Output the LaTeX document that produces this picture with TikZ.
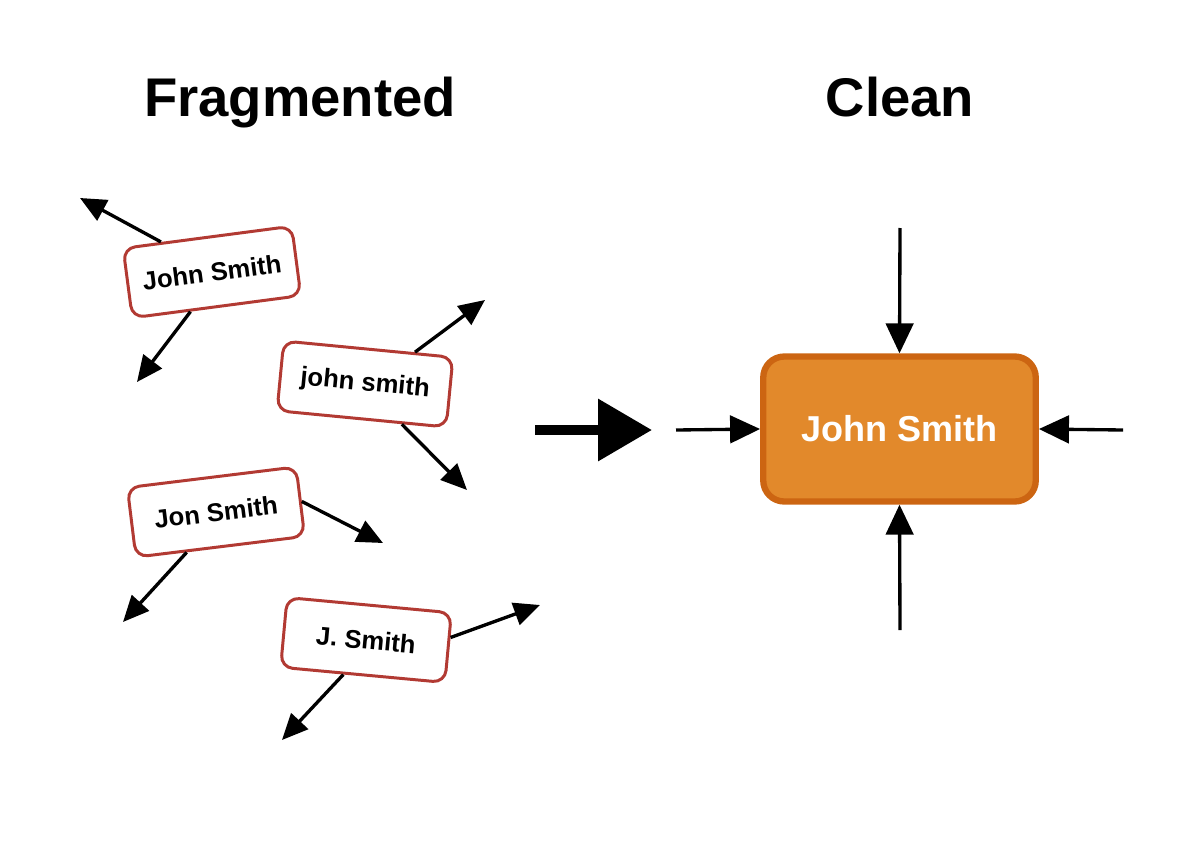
\documentclass[tikz,border=0pt]{standalone}
\usepackage{fontspec}
\setmainfont{Liberation Sans}
\usetikzlibrary{arrows.meta}
\definecolor{fragred}{HTML}{B23A33}
\definecolor{cleanfill}{HTML}{E2892B}
\definecolor{cleanedge}{HTML}{CC6512}
\begin{document}
\begin{tikzpicture}[>={Triangle[length=0.52cm,width=0.46cm]},
  title/.style={anchor=base,font=\fontsize{31}{36}\selectfont\bfseries},
  frag/.style={draw=fragred,line width=1.7pt,fill=white,rounded corners=0.24cm,
    minimum width=3.4cm,minimum height=1.4cm,font=\fontsize{14.6}{17}\selectfont\bfseries},
  cleanbox/.style={draw=cleanedge,line width=3.6pt,fill=cleanfill,rounded corners=0.42cm,
    minimum width=5.45cm,minimum height=2.9cm,text=white,font=\fontsize{20.5}{24}\selectfont\bfseries},
  spread/.style={->,line width=1.9pt},
  merge/.style={-{Triangle[length=0.6cm,width=0.55cm]},line width=1.9pt}]
\useasboundingbox (0,0) rectangle (24,17.16);

\node[title] (fragtitle) at (6.0,14.82) {Fragmented};
\node[title] (cleantitle) at (18,14.82) {Clean};

% scattered names
\node[frag,rotate=7.5] (b1) at (4.24,11.72) {John Smith};
\node[frag,rotate=-5.5] (b2) at (7.3,9.48) {john smith};
\node[frag,rotate=7] (b3) at (4.32,6.92) {Jon Smith};
\node[frag,rotate=-5.3,minimum width=3.3cm] (b4) at (7.32,4.36) {J. Smith};

\coordinate (t1a) at (1.6,13.2);
\coordinate (t1b) at (2.74,9.52);
\coordinate (t2a) at (9.7,11.16);
\coordinate (t2b) at (9.34,7.36);
\coordinate (t3a) at (7.66,6.3);
\coordinate (t3b) at (2.46,4.72);
\coordinate (t4a) at (10.8,5.06);
\coordinate (t4b) at (5.64,2.36);

\draw[spread] (b1.142) -- (t1a);
\draw[spread] (b1.234) -- (t1b);
\draw[spread] (b2.38) -- (t2a);
\draw[spread] (b2.318) -- (t2b);
\draw[spread] (b3.east) -- (t3a);
\draw[spread] (b3.227) -- (t3b);
\draw[spread] (b4.7) -- (t4a);
\draw[spread] (b4.242) -- (t4b);

% big arrow
\coordinate (gofrom) at (10.7,8.56);
\coordinate (goto) at (13.04,8.56);
\draw[-{Triangle[length=1.08cm,width=1.2cm]},line width=5.7pt] (gofrom) -- (goto);

% clean record
\node[cleanbox] (clean) at (17.99,8.58) {John Smith};

\coordinate (intop) at (18,12.6);
\coordinate (inbot) at (18,4.56);
\coordinate (inleft) at (13.52,8.56);
\coordinate (inright) at (22.46,8.56);

\draw[merge] (intop) -- (clean.north);
\draw[merge] (inbot) -- (clean.south);
\draw[merge] (inleft) -- (clean.west);
\draw[merge] (inright) -- (clean.east);
\end{tikzpicture}
\end{document}
